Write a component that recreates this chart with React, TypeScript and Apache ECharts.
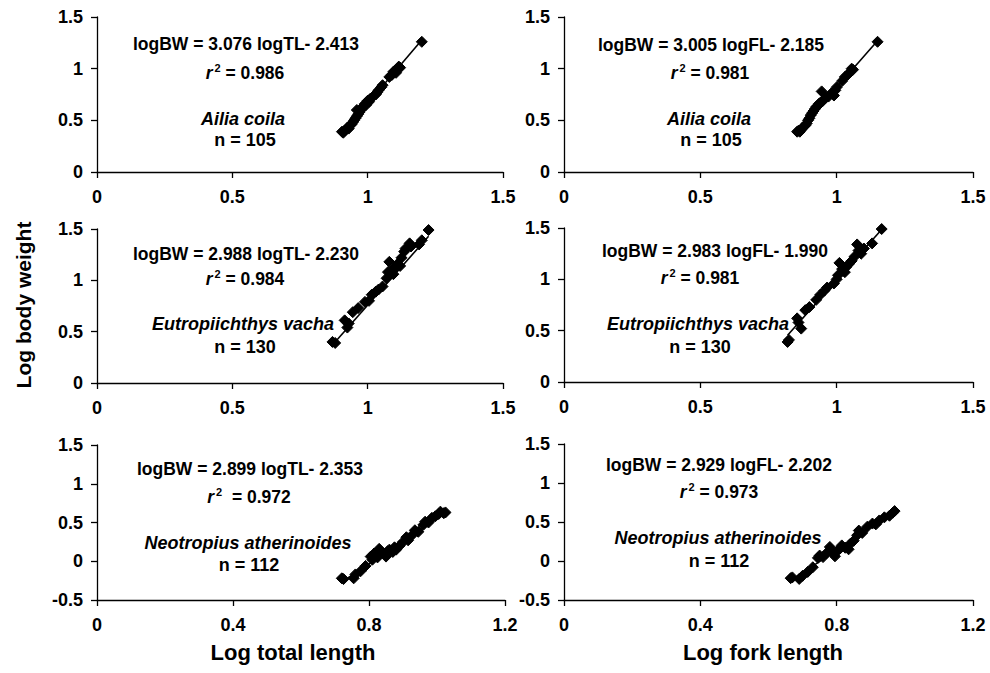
import React, { useEffect, useRef } from "react";
import * as echarts from "echarts";

const FONT = '"Liberation Sans", Arial, Helvetica, sans-serif';

// Log length (x) vs log body weight (y)
const ailiaTL: number[][] = [
  [0.905, 0.39], [0.91, 0.38], [0.915, 0.40], [0.92, 0.41], [0.925, 0.43], [0.93, 0.42], [0.935, 0.45],
  [0.94, 0.46], [0.945, 0.48], [0.95, 0.50], [0.955, 0.52], [0.96, 0.60], [0.96, 0.54], [0.965, 0.56],
  [0.97, 0.58], [0.975, 0.60], [0.98, 0.62], [0.985, 0.64], [0.99, 0.66], [0.995, 0.65], [1.0, 0.69],
  [1.005, 0.68], [1.01, 0.71], [1.02, 0.73], [1.03, 0.75], [1.035, 0.77], [1.04, 0.79], [1.05, 0.82],
  [1.055, 0.84], [1.08, 0.92], [1.09, 0.94], [1.095, 0.97], [1.1, 0.98], [1.105, 0.96], [1.11, 1.0],
  [1.115, 1.02], [1.12, 1.01], [1.2, 1.26],
];
const ailiaFL: number[][] = [
  [0.855, 0.39], [0.86, 0.40], [0.865, 0.39], [0.87, 0.41], [0.875, 0.43], [0.88, 0.44], [0.885, 0.45],
  [0.89, 0.47], [0.895, 0.50], [0.9, 0.52], [0.905, 0.55], [0.91, 0.57], [0.915, 0.59], [0.92, 0.61],
  [0.925, 0.63], [0.93, 0.64], [0.935, 0.66], [0.945, 0.78], [0.94, 0.67], [0.95, 0.69], [0.96, 0.72],
  [0.97, 0.73], [0.98, 0.76], [0.99, 0.74], [0.995, 0.79], [1.0, 0.82], [1.02, 0.88], [1.03, 0.92],
  [1.04, 0.94], [1.05, 0.97], [1.055, 1.0], [1.06, 0.99], [1.15, 1.26],
];
const vachaTL: number[][] = [
  [0.87, 0.40], [0.88, 0.39], [0.915, 0.61], [0.925, 0.54], [0.93, 0.58], [0.945, 0.69], [0.965, 0.73],
  [0.99, 0.79], [1.005, 0.80], [1.015, 0.86], [1.03, 0.89], [1.04, 0.91], [1.055, 0.94], [1.07, 1.02],
  [1.075, 1.08], [1.08, 1.18], [1.09, 1.10], [1.095, 1.06], [1.1, 1.12], [1.11, 1.16], [1.12, 1.14],
  [1.125, 1.22], [1.135, 1.28], [1.14, 1.31], [1.155, 1.36], [1.16, 1.33], [1.19, 1.35], [1.2, 1.39],
  [1.225, 1.49],
];
const vachaFL: number[][] = [
  [0.82, 0.39], [0.825, 0.41], [0.855, 0.62], [0.86, 0.58], [0.87, 0.52], [0.885, 0.70], [0.9, 0.73],
  [0.925, 0.80], [0.94, 0.85], [0.955, 0.89], [0.965, 0.92], [0.99, 0.96], [1.0, 1.0], [1.005, 1.04],
  [1.01, 1.16], [1.02, 1.10], [1.03, 1.07], [1.035, 1.12], [1.045, 1.15], [1.055, 1.18], [1.065, 1.22],
  [1.075, 1.34], [1.08, 1.28], [1.09, 1.25], [1.1, 1.30], [1.13, 1.35], [1.165, 1.49],
];
const neoTL: number[][] = [
  [0.72, -0.22], [0.725, -0.23], [0.755, -0.22], [0.76, -0.17], [0.775, -0.13], [0.79, -0.06], [0.805, 0.06],
  [0.81, 0.02], [0.815, 0.10], [0.825, 0.05], [0.83, 0.16], [0.835, 0.12], [0.845, 0.10], [0.85, 0.06],
  [0.855, 0.13], [0.86, 0.15], [0.87, 0.12], [0.875, 0.18], [0.88, 0.15], [0.89, 0.20], [0.9, 0.25],
  [0.91, 0.31], [0.915, 0.27], [0.925, 0.33], [0.935, 0.40], [0.945, 0.38], [0.96, 0.47], [0.965, 0.51],
  [0.975, 0.50], [0.985, 0.56], [0.995, 0.58], [1.005, 0.61], [1.01, 0.64], [1.02, 0.62], [1.025, 0.63],
];
const neoFL: number[][] = [
  [0.665, -0.22], [0.67, -0.21], [0.69, -0.23], [0.7, -0.19], [0.715, -0.14], [0.73, -0.08], [0.745, 0.04],
  [0.75, 0.07], [0.76, 0.05], [0.77, 0.10], [0.78, 0.18], [0.785, 0.13], [0.795, 0.06], [0.8, 0.12],
  [0.81, 0.16], [0.815, 0.20], [0.825, 0.17], [0.835, 0.15], [0.84, 0.22], [0.85, 0.26], [0.86, 0.33],
  [0.865, 0.39], [0.875, 0.36], [0.89, 0.44], [0.905, 0.48], [0.915, 0.47], [0.925, 0.52], [0.94, 0.56],
  [0.955, 0.58], [0.965, 0.62], [0.97, 0.64],
];

const panelData = [ailiaTL, ailiaFL, vachaTL, vachaFL, neoTL, neoFL];
const slopes = [3.076, 3.005, 2.988, 2.983, 2.899, 2.929];
const intercepts = [-2.413, -2.185, -2.23, -1.99, -2.353, -2.202];
const r2Values = ["0.986", "0.981", "0.984", "0.981", "0.972", "0.973"];
const r2Gaps = [" ", " ", " ", " ", "  ", " "];
const species = [
  "Ailia coila", "Ailia coila",
  "Eutropiichthys vacha", "Eutropiichthys vacha",
  "Neotropius atherinoides", "Neotropius atherinoides",
];
const counts = [105, 105, 130, 130, 112, 112];
const lengthCodes = ["TL", "FL", "TL", "FL", "TL", "FL"];
const xMax = [1.5, 1.5, 1.5, 1.5, 1.2, 1.2];
const xInterval = [0.5, 0.5, 0.5, 0.5, 0.4, 0.4];
const yMin = [0, 0, 0, 0, -0.5, -0.5];
const yMax = [1.5, 1.5, 1.5, 1.5, 1.5, 1.5];
const yInterval = [0.5, 0.5, 0.5, 0.5, 0.5, 0.5];

const grids = [
  { left: 97, top: 17, width: 406, height: 155 },
  { left: 564, top: 17, width: 409, height: 155 },
  { left: 97, top: 229, width: 406, height: 154 },
  { left: 564, top: 228, width: 409, height: 154 },
  { left: 97, top: 445, width: 408, height: 155 },
  { left: 564, top: 444, width: 409, height: 156 },
];

// annotation centres: [x, y] for equation, r2, species, n
const annot = [
  { eq: [246, 44], r2: [245, 73], sp: [243, 119], n: [245, 140] },
  { eq: [711, 45], r2: [710, 73], sp: [709, 119], n: [711, 140] },
  { eq: [246, 254], r2: [245, 279], sp: [243, 324], n: [245, 347] },
  { eq: [715, 251], r2: [700, 278], sp: [698, 324], n: [700, 347] },
  { eq: [250, 469], r2: [249, 497], sp: [248, 543], n: [249, 565] },
  { eq: [719, 465], r2: [719, 492], sp: [718, 538], n: [719, 561] },
];

export default function App() {
  const ref = useRef<HTMLDivElement>(null);
  useEffect(() => {
    if (!ref.current) return;
    const chart = echarts.init(ref.current, undefined, { renderer: "svg" });

    const labelStyle = { color: "#000", fontSize: 18, fontWeight: "bold" as const, fontFamily: FONT };
    const xAxis = grids.map((_, i) => ({
      type: "value",
      gridIndex: i,
      min: 0,
      max: xMax[i],
      interval: xInterval[i],
      axisLine: { show: true, onZero: false, lineStyle: { color: "#000", width: 1.3 } },
      axisTick: { show: true, inside: false, length: 6, lineStyle: { color: "#000", width: 1.3 } },
      axisLabel: { ...labelStyle, margin: 16 },
      splitLine: { show: false },
    }));
    const yAxis = grids.map((_, i) => ({
      type: "value",
      gridIndex: i,
      min: yMin[i],
      max: yMax[i],
      interval: yInterval[i],
      axisLine: { show: true, onZero: false, lineStyle: { color: "#000", width: 1.3 } },
      axisTick: { show: true, inside: false, length: 6, lineStyle: { color: "#000", width: 1.3 } },
      axisLabel: { ...labelStyle, margin: 14 },
      splitLine: { show: false },
    }));

    const series: any[] = [];
    panelData.forEach((pts, i) => {
      series.push({
        type: "scatter",
        xAxisIndex: i,
        yAxisIndex: i,
        data: pts,
        symbol: "diamond",
        symbolSize: 11,
        itemStyle: { color: "#000", opacity: 1, borderColor: "#000", borderWidth: 1 },
        z: 3,
      });
      const xs = pts.map((p) => p[0]);
      const x0 = Math.min(...xs);
      const x1 = Math.max(...xs);
      series.push({
        type: "line",
        xAxisIndex: i,
        yAxisIndex: i,
        data: [
          [x0, slopes[i] * x0 + intercepts[i]],
          [x1, slopes[i] * x1 + intercepts[i]],
        ],
        symbol: "none",
        lineStyle: { color: "#000", width: 1.6 },
        z: 2,
      });
    });

    const txt = (x: number, y: number, text: string, extra: any = {}) => ({
      type: "text",
      x,
      y,
      style: {
        text,
        fill: "#000",
        fontSize: 17.5,
        fontWeight: "bold",
        fontFamily: FONT,
        align: "center",
        verticalAlign: "middle",
        ...extra,
      },
    });

    const graphic: any[] = [];
    annot.forEach((a, i) => {
      graphic.push(
        txt(a.eq[0], a.eq[1], `logBW = ${slopes[i].toFixed(3)} log${lengthCodes[i]}- ${Math.abs(intercepts[i]).toFixed(3)}`)
      );
      graphic.push(
        txt(a.r2[0], a.r2[1], `{r|r}{s|2}{v|${r2Gaps[i]}= ${r2Values[i]}}`, {
          rich: {
            r: { fontSize: 17.5, fontWeight: "bold", fontStyle: "italic", fontFamily: FONT, fill: "#000", lineHeight: 21 },
            s: { fontSize: 11, fontWeight: "bold", fontFamily: FONT, fill: "#000", verticalAlign: "top", lineHeight: 11, padding: [0, 0, 0, 2] },
            v: { fontSize: 17.5, fontWeight: "bold", fontFamily: FONT, fill: "#000", lineHeight: 21 },
          },
        })
      );
      graphic.push(txt(a.sp[0], a.sp[1], species[i], { fontStyle: "italic", fontSize: 18 }));
      graphic.push(txt(a.n[0], a.n[1], `n = ${counts[i]}`, { fontSize: 18 }));
    });
    graphic.push(txt(23, 305, "Log body weight", { fontSize: 21 }));
    graphic[graphic.length - 1].rotation = Math.PI / 2;
    graphic.push(txt(293, 652, "Log total length", { fontSize: 22 }));
    graphic.push(txt(763, 652, "Log fork length", { fontSize: 22 }));

    chart.setOption({
      animation: false,
      backgroundColor: "#fff",
      grid: grids.map((g) => ({ ...g, containLabel: false })),
      xAxis,
      yAxis,
      series,
      graphic,
    });
    return () => chart.dispose();
  }, []);

  return (
    <div
      ref={ref}
      style={{ position: "absolute", left: 0, top: 0, width: 990, height: 673, background: "#fff" }}
    />
  );
}
